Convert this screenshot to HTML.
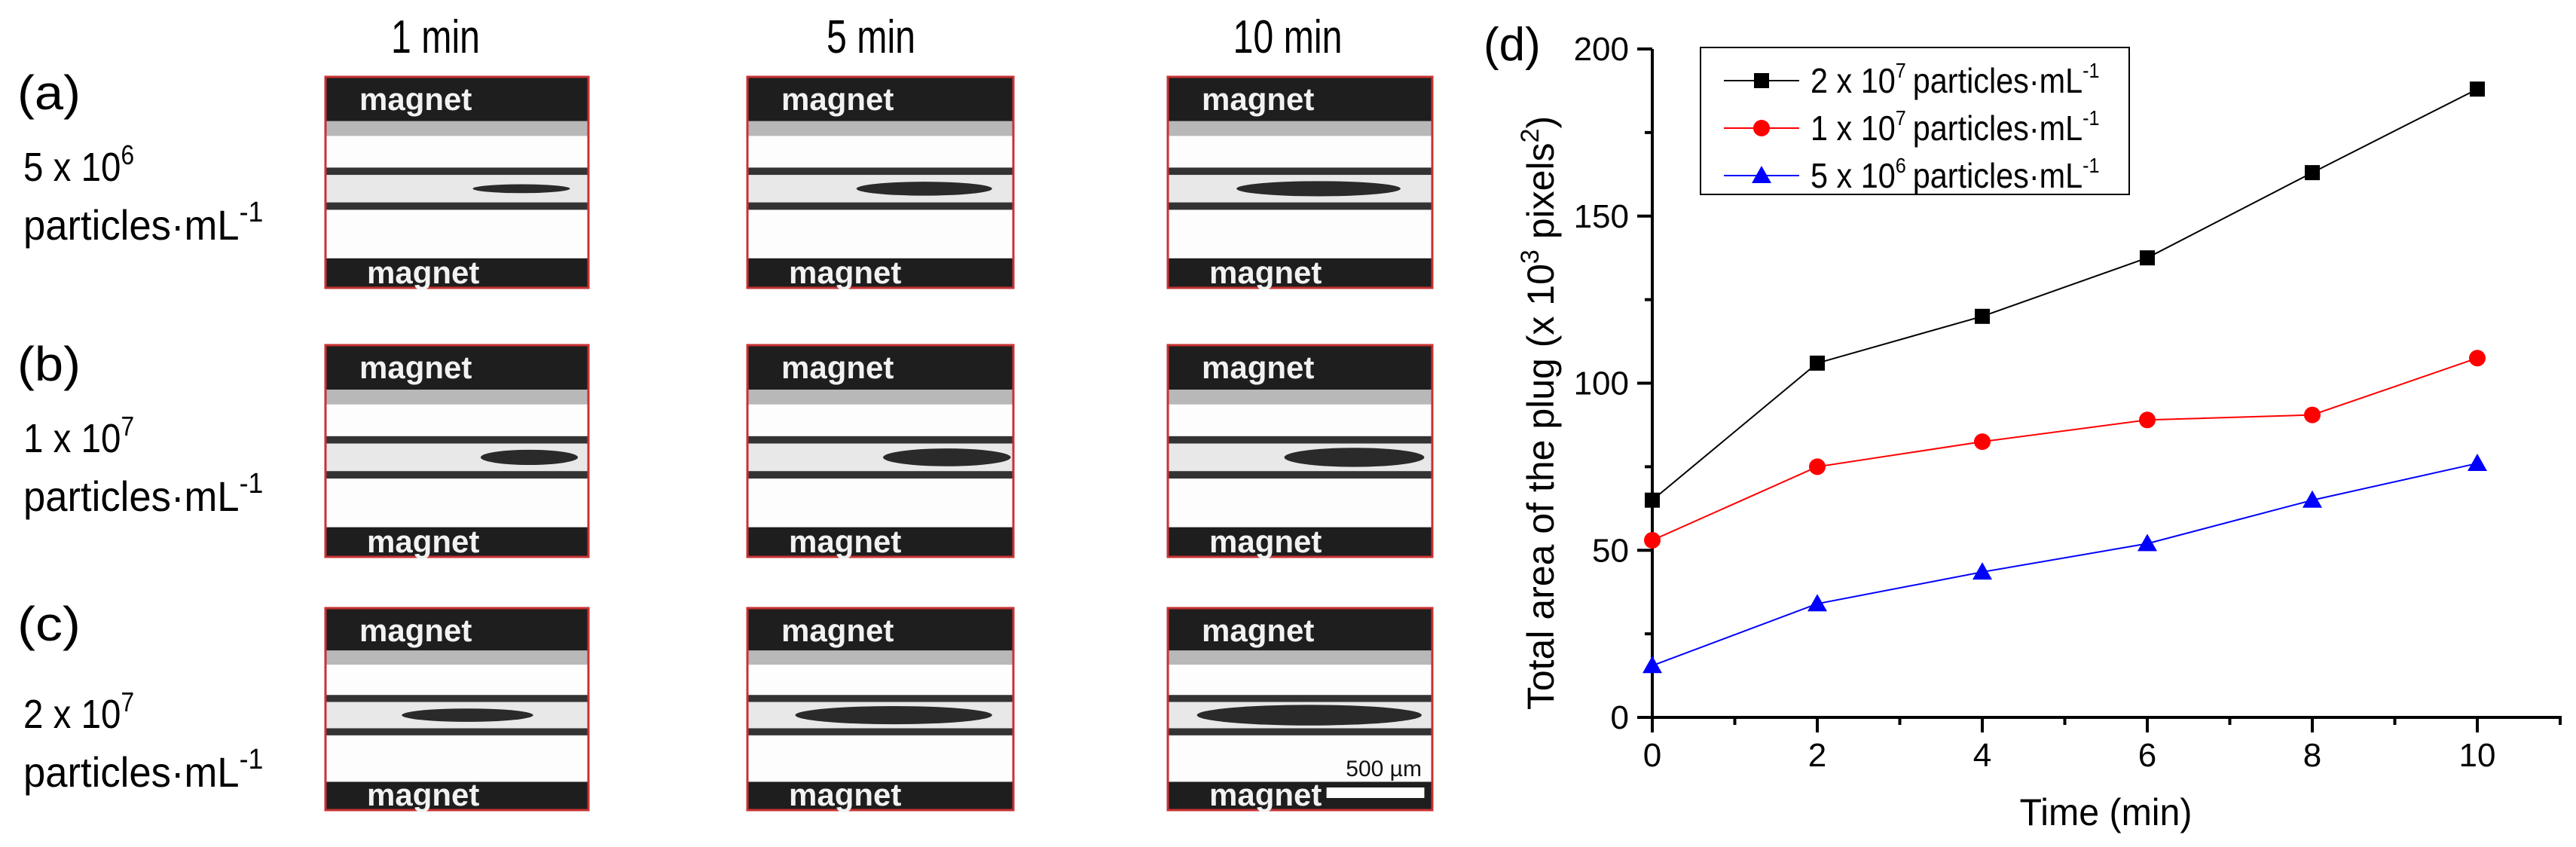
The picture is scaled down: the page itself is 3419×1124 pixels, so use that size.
<!DOCTYPE html>
<html><head><meta charset="utf-8"><style>
html,body{margin:0;padding:0;background:#fff;}
svg{display:block;font-family:"Liberation Sans",Arial,sans-serif;}
</style></head><body>
<svg id="fig" width="3419" height="1124" viewBox="0 0 3419 1124" xmlns="http://www.w3.org/2000/svg">
<g id="left">
  <text x="578" y="70" font-size="62" text-anchor="middle" textLength="118" lengthAdjust="spacingAndGlyphs">1 min</text>
  <text x="1156" y="70" font-size="62" text-anchor="middle" textLength="118" lengthAdjust="spacingAndGlyphs">5 min</text>
  <text x="1709" y="70" font-size="62" text-anchor="middle" textLength="145" lengthAdjust="spacingAndGlyphs">10 min</text>

  <text x="23" y="145" font-size="64" textLength="84" lengthAdjust="spacingAndGlyphs">(a)</text>
  <text transform="translate(31,240) scale(0.88,1)" font-size="54">5 x 10<tspan dy="-22" font-size="36">6</tspan></text>
  <text transform="translate(31,318) scale(0.94,1)" font-size="56">particles·mL<tspan dy="-24" font-size="38">-1</tspan></text>

  <text x="23" y="505" font-size="64" textLength="84" lengthAdjust="spacingAndGlyphs">(b)</text>
  <text transform="translate(31,600) scale(0.88,1)" font-size="54">1 x 10<tspan dy="-22" font-size="36">7</tspan></text>
  <text transform="translate(31,678) scale(0.94,1)" font-size="56">particles·mL<tspan dy="-24" font-size="38">-1</tspan></text>

  <text x="23" y="850" font-size="64" textLength="84" lengthAdjust="spacingAndGlyphs">(c)</text>
  <text transform="translate(31,966) scale(0.88,1)" font-size="54">2 x 10<tspan dy="-22" font-size="36">7</tspan></text>
  <text transform="translate(31,1044) scale(0.94,1)" font-size="56">particles·mL<tspan dy="-24" font-size="38">-1</tspan></text>
</g>
<g id="chart"></g>
</svg>
<script>
// ---------- chart data ----------
const times = [0, 2, 4, 6, 8, 10];
const series2e7 = [65, 106, 120, 137.5, 163, 188];
const series1e7 = [53, 75, 82.5, 89, 90.5, 107.5];
const series5e6 = [15.5, 34, 43.5, 52, 65, 76];
const yTicks = [0, 50, 100, 150, 200];
const xTicks = [0, 2, 4, 6, 8, 10];
const legendBase = ["2 x 10", "1 x 10", "5 x 10"];
const legendExp = ["7", "7", "6"];

// ---------- micrograph data ----------
const plugStart = [[0.56,0.41,0.26],[0.59,0.51,0.44],[0.29,0.18,0.11]];
const plugEnd   = [[0.93,0.92,0.88],[0.96,0.99,0.97],[0.79,0.92,0.96]];
const plugThick = [[0.35,0.55,0.6],[0.6,0.7,0.75],[0.55,0.75,0.85]];

const NS = "http://www.w3.org/2000/svg";
function mk(tag, attrs, parent){
  const e = document.createElementNS(NS, tag);
  for (const k in attrs) e.setAttribute(k, attrs[k]);
  parent.appendChild(e);
  return e;
}

// ---------- panels ----------
const left = document.getElementById('left');
const colX = [[432,781],[992,1345],[1550,1901]];
const rowY = [[102,382],[458,739],[807,1075]];
for (let r = 0; r < 3; r++) {
  for (let c = 0; c < 3; c++) {
    const x0 = colX[c][0], x1 = colX[c][1], y0 = rowY[r][0], y1 = rowY[r][1];
    const w = x1 - x0, h = y1 - y0;
    const g = mk('g', {}, left);
    
    
    mk('rect', {x:x0, y:y0, width:w, height:h, fill:'#fdfdfd'}, g);
    mk('rect', {x:x0, y:y0, width:w, height:h*0.21, fill:'#1e1e1e'}, g);
    mk('rect', {x:x0, y:y0+h*0.21, width:w, height:h*0.07, fill:'#b8b8b8'}, g);
    mk('rect', {x:x0, y:y0+h*0.43, width:w, height:h*0.035, fill:'#333'}, g);
    mk('rect', {x:x0, y:y0+h*0.465, width:w, height:h*0.13, fill:'#e8e8e8'}, g);
    mk('rect', {x:x0, y:y0+h*0.595, width:w, height:h*0.035, fill:'#333'}, g);
    mk('rect', {x:x0, y:y0+h*0.86, width:w, height:h*0.14, fill:'#1e1e1e'}, g);
    const ps = x0 + w*plugStart[r][c], pe = x0 + w*plugEnd[r][c];
    const cy = y0 + h*0.53, th = h*0.06*plugThick[r][c];
    const plug = mk('ellipse', {cx:(ps+pe)/2, cy:cy, rx:(pe-ps)/2, ry:th, fill:'#2a2a2a'}, g);
    
    
    mk('rect', {x:x0, y:y0, width:w, height:h, fill:'none', stroke:'#c83232', 'stroke-width':3}, g);
    const t1 = mk('text', {x:x0+45, y:y0+44, 'font-size':42, 'font-weight':'bold', fill:'#f2f2f2'}, g);
    t1.textContent = 'magnet';
    
    
    const t2 = mk('text', {x:x0+55, y:y1-6, 'font-size':42, 'font-weight':'bold', fill:'#f2f2f2'}, g);
    t2.textContent = 'magnet';
    
    
    if (r === 2 && c === 2) {
      const sb = mk('rect', {x:x0+w*0.6, y:y1-30, width:w*0.37, height:14, fill:'#fff'}, g);
      
      
      const st = mk('text', {x:x0+w*0.96, y:y1-45, 'font-size':30, 'text-anchor':'end', fill:'#111'}, g);
      st.textContent = '500 µm';
      
      
    }
  }
}

// ---------- chart ----------
const chart = document.getElementById('chart');
const X0 = 2193, XS = 109.5, Y0 = 952, YS = 4.435;
const sx = v => X0 + v*XS;
const sy = v => Y0 - v*YS;

const pl = mk('text', {x:1969, y:80, 'font-size':62}, chart);
pl.textContent = '(d)';



// axes
const ax = mk('g', {stroke:'#000', 'stroke-width':4, fill:'none'}, chart);


mk('line', {x1:X0, y1:sy(200), x2:X0, y2:Y0+2}, ax);
mk('line', {x1:X0-2, y1:Y0, x2:3400, y2:Y0}, ax);
mk('line', {x1:3398, y1:Y0, x2:3398, y2:Y0+10}, ax);
for (let v = 0; v <= 200; v += 25) {
  const major = v % 50 === 0;
  mk('line', {x1:X0 - (major ? 20 : 10), y1:sy(v), x2:X0, y2:sy(v)}, ax);
}
for (let v = 0; v <= 10; v += 1) {
  const major = v % 2 === 0;
  mk('line', {x1:sx(v), y1:Y0, x2:sx(v), y2:Y0 + (major ? 20 : 10)}, ax);
}
yTicks.forEach(v => {
  const t = mk('text', {x:2162, y:sy(v)+15, 'font-size':44, 'text-anchor':'end'}, chart);
  t.textContent = String(v);
  
  
});
xTicks.forEach(v => {
  const t = mk('text', {x:sx(v), y:1017, 'font-size':44, 'text-anchor':'middle'}, chart);
  t.textContent = String(v);
  
  
});
const xt = mk('text', {x:2795, y:1095, 'font-size':50, 'text-anchor':'middle', textLength:229, lengthAdjust:'spacingAndGlyphs'}, chart);
xt.textContent = 'Time (min)';


const yt = mk('text', {x:0, y:0, 'font-size':50, 'text-anchor':'middle', transform:'translate(2062,548) rotate(-90)'}, chart);


const yt1 = mk('tspan', {}, yt); yt1.textContent = 'Total area of the plug (x 10';
const yt2 = mk('tspan', {dy:-20, 'font-size':34}, yt); yt2.textContent = '3';
const yt3 = mk('tspan', {dy:20}, yt); yt3.textContent = ' pixels';
const yt4 = mk('tspan', {dy:-20, 'font-size':34}, yt); yt4.textContent = '2';
const yt5 = mk('tspan', {dy:20}, yt); yt5.textContent = ')';

function marker(kind, x, y, color, parent){
  let m;
  if (kind === 'square') m = mk('rect', {x:x-10, y:y-10, width:20, height:20, fill:color}, parent);
  else if (kind === 'circle') m = mk('circle', {cx:x, cy:y, r:11, fill:color}, parent);
  else m = mk('polygon', {points:`${x},${y-13} ${x-13},${y+10} ${x+13},${y+10}`, fill:color}, parent);
  return m;
}
const allSeries = [[series2e7,'#000','square','series-2e7'],[series1e7,'#f00','circle','series-1e7'],[series5e6,'#00f','triangle','series-5e6']];
allSeries.forEach(([vals, color, kind, name]) => {
  const g = mk('g', {}, chart);
  
  
  const pts = vals.map((v,i) => `${sx(times[i])},${sy(v)}`).join(' ');
  const line = mk('polyline', {points:pts, fill:'none', stroke:color, 'stroke-width':2}, g);
  
  
  vals.forEach((v,i) => {
    const m = marker(kind, sx(times[i]), sy(v), color, g);
    
    
  });
});

// legend
const lg = mk('g', {}, chart);


mk('rect', {x:2257, y:63, width:569, height:195, fill:'#fff', stroke:'#000', 'stroke-width':2}, lg);
const rowsY = [107, 170, 233];
allSeries.forEach(([vals, color, kind, name], i) => {
  const e = mk('g', {}, lg);
  
  
  mk('line', {x1:2288, y1:rowsY[i], x2:2388, y2:rowsY[i], stroke:color, 'stroke-width':2}, e);
  marker(kind, 2338, rowsY[i], color, e);
  const t = mk('text', {'font-size':46, transform:`translate(2403,${rowsY[i]+16}) scale(0.9,1)`}, e);
  const a = mk('tspan', {}, t); a.textContent = legendBase[i];
  const b = mk('tspan', {dy:-20, 'font-size':28}, t); b.textContent = legendExp[i];
  const c = mk('tspan', {dy:20, dx:10}, t); c.textContent = 'particles·mL';
  const d = mk('tspan', {dy:-20, 'font-size':28}, t); d.textContent = '-1';
});
</script>
</body></html>
